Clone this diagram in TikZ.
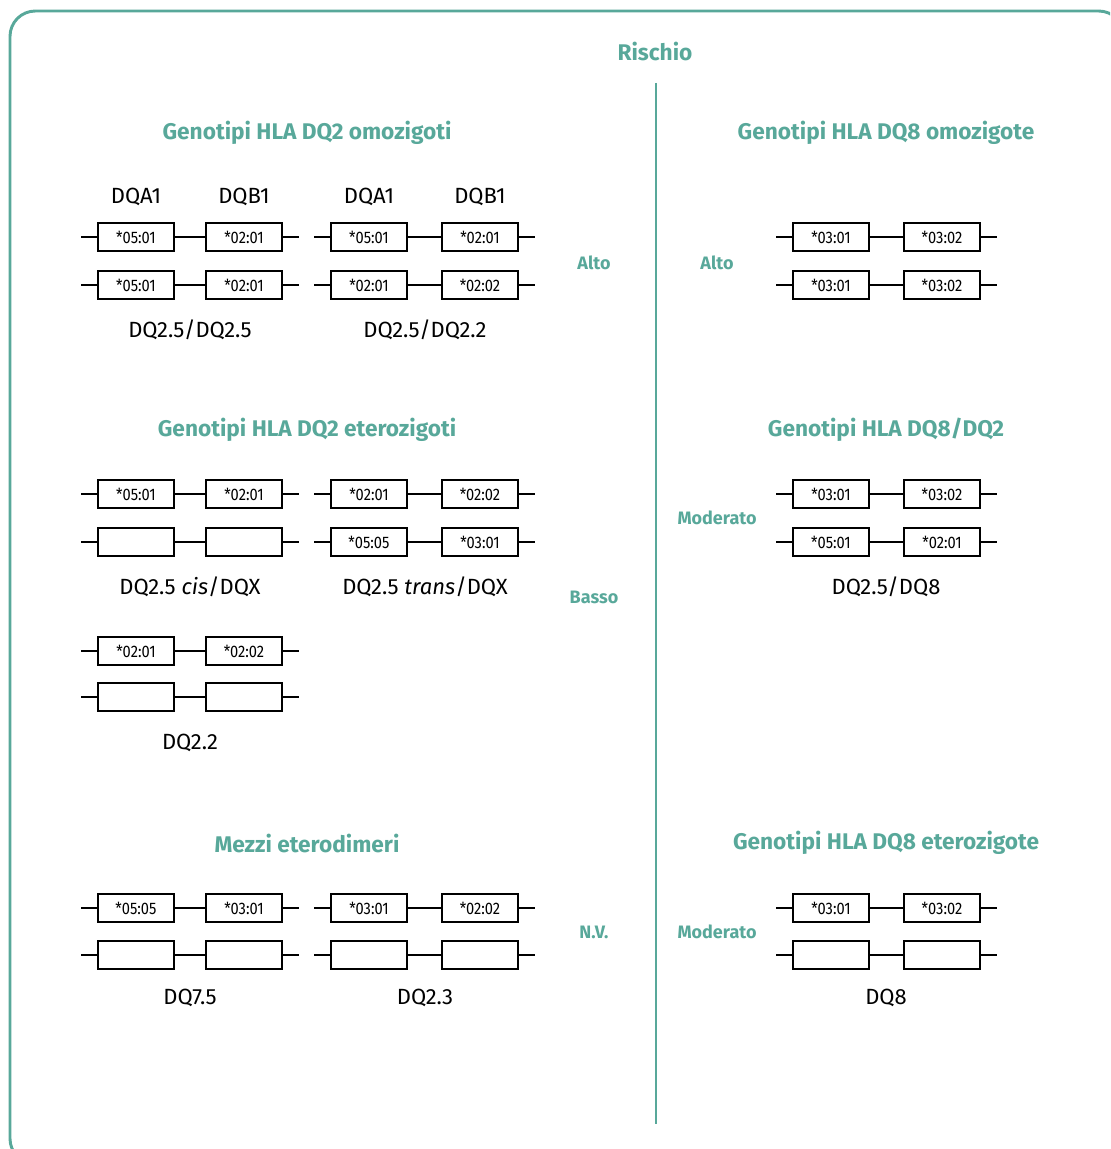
\documentclass[tikz,border=0pt]{standalone}
\usepackage{fontspec}
\setmainfont{Fira Sans}
\newfontfamily\boxfont[FakeStretch=0.88]{Fira Sans}
\definecolor{tealc}{RGB}{88,168,154}
\tikzset{
  frame/.style={draw=tealc, line width=2.2pt, rounded corners=19pt},
  divider/.style={draw=tealc, line width=2.2pt},
  gbox/.style={draw, line width=1.3pt, minimum width=57pt, minimum height=21pt, inner sep=0pt, font=\boxfont\fontsize{12.5}{12.5}\selectfont},
  wire/.style={line width=1pt},
  ttl/.style={text=tealc, font=\bfseries\fontsize{17}{20}\selectfont},
  risk/.style={text=tealc, font=\bfseries\fontsize{13.5}{16}\selectfont},
  lbl/.style={font=\fontsize{16.5}{20}\selectfont},
}
\newcommand\gpair[6]{%
  \node[gbox] (#1a) at (#2,#4) {#5};
  \node[gbox] (#1b) at (#3,#4) {#6};
  \path (#1a.west) ++(-16,0) coordinate (#1l);
  \path (#1b.east) ++(16,0) coordinate (#1r);
  \draw[wire] (#1l) -- (#1a) -- (#1b) -- (#1r);
}
\begin{document}
\begin{tikzpicture}[x=0.75pt,y=-0.75pt]
\useasboundingbox (0,0) rectangle (1110,1149);
\begin{scope}
\clip (0,0) rectangle (1110,1149);
\draw[frame] (10,11) rectangle (1124,1164);
\end{scope}
\node[ttl] (rischio) at (655,52) {Rischio};
\coordinate (divtop) at (656,83);
\coordinate (divbot) at (656,1124);
\draw[divider] (divtop) -- (divbot);

% Section 1
\node[ttl] (t1l) at (307,133) {Genotipi HLA DQ2 omozigoti};
\node[ttl] (t1r) at (886,133) {Genotipi HLA DQ8 omozigote};
\node[lbl] (h1) at (136,197) {DQA1};
\node[lbl] (h2) at (244,197) {DQB1};
\node[lbl] (h3) at (369,197) {DQA1};
\node[lbl] (h4) at (480,197) {DQB1};
\gpair{s1a1}{136}{244}{237}{*05:01}{*02:01}
\gpair{s1a2}{136}{244}{285}{*05:01}{*02:01}
\gpair{s1b1}{369}{480}{237}{*05:01}{*02:01}
\gpair{s1b2}{369}{480}{285}{*02:01}{*02:02}
\gpair{s1r1}{831}{942}{237}{*03:01}{*03:02}
\gpair{s1r2}{831}{942}{285}{*03:01}{*03:02}
\node[lbl] (n1a) at (190,330) {DQ2.5/DQ2.5};
\node[lbl] (n1b) at (425,330) {DQ2.5/DQ2.2};
\node[risk] (r1l) at (594,263) {Alto};
\node[risk] (r1r) at (717,263) {Alto};

% Section 2
\node[ttl] (t2l) at (307,430) {Genotipi HLA DQ2 eterozigoti};
\node[ttl] (t2r) at (886,430) {Genotipi HLA DQ8/DQ2};
\gpair{s2a1}{136}{244}{494}{*05:01}{*02:01}
\gpair{s2a2}{136}{244}{542}{}{}
\gpair{s2b1}{369}{480}{494}{*02:01}{*02:02}
\gpair{s2b2}{369}{480}{542}{*05:05}{*03:01}
\gpair{s2c1}{136}{244}{651}{*02:01}{*02:02}
\gpair{s2c2}{136}{244}{697}{}{}
\gpair{s2r1}{831}{942}{494}{*03:01}{*03:02}
\gpair{s2r2}{831}{942}{542}{*05:01}{*02:01}
\node[lbl] (n2a) at (190,587) {DQ2.5 \textit{cis}/DQX};
\node[lbl] (n2b) at (425,587) {DQ2.5 \textit{trans}/DQX};
\node[lbl] (n2c) at (190,743) {DQ2.2};
\node[lbl] (n2r) at (886,587) {DQ2.5/DQ8};
\node[risk] (r2l) at (594,597) {Basso};
\node[risk] (r2r) at (717,518) {Moderato};

% Section 3
\node[ttl] (t3l) at (307,843) {Mezzi eterodimeri};
\node[ttl] (t3r) at (886,843) {Genotipi HLA DQ8 eterozigote};
\gpair{s3a1}{136}{244}{908}{*05:05}{*03:01}
\gpair{s3a2}{136}{244}{955}{}{}
\gpair{s3b1}{369}{480}{908}{*03:01}{*02:02}
\gpair{s3b2}{369}{480}{955}{}{}
\gpair{s3r1}{831}{942}{908}{*03:01}{*03:02}
\gpair{s3r2}{831}{942}{955}{}{}
\node[lbl] (n3a) at (190,998) {DQ7.5};
\node[lbl] (n3b) at (425,998) {DQ2.3};
\node[lbl] (n3r) at (886,998) {DQ8};
\node[risk] (r3l) at (594,932) {N.V.};
\node[risk] (r3r) at (717,932) {Moderato};
\end{tikzpicture}
\end{document}
